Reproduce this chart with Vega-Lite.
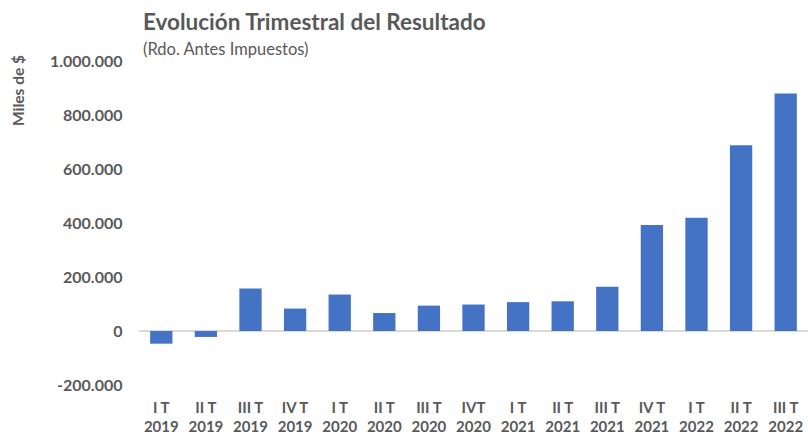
{
  "$schema": "https://vega.github.io/schema/vega-lite/v6.json",
  "width": 669,
  "height": 324,
  "autosize": {"type": "none"},
  "padding": {"left": 139, "top": 61, "right": 0, "bottom": 52},
  "background": "white",
  "title": {
    "text": "Evolución Trimestral del Resultado",
    "subtitle": "(Rdo. Antes Impuestos)",
    "anchor": "start",
    "frame": "group",
    "offset": -5,
    "dx": 4,
    "font": "Lato",
    "fontSize": 22.5,
    "fontWeight": "bold",
    "color": "#595959",
    "subtitleFont": "Lato",
    "subtitleFontSize": 16.5,
    "subtitleColor": "#595959",
    "subtitlePadding": 7
  },
  "data": {
    "values": [
      {"q": "I T 2019", "v": -47000},
      {"q": "II T 2019", "v": -22000},
      {"q": "III T 2019", "v": 157000},
      {"q": "IV T 2019", "v": 83000},
      {"q": "I T 2020", "v": 135000},
      {"q": "II T 2020", "v": 67000},
      {"q": "III T 2020", "v": 94000},
      {"q": "IVT 2020", "v": 98000},
      {"q": "I T 2021", "v": 107000},
      {"q": "II T 2021", "v": 110000},
      {"q": "III T 2021", "v": 164000},
      {"q": "IV T 2021", "v": 393000},
      {"q": "I T 2022", "v": 419000},
      {"q": "II T 2022", "v": 688000},
      {"q": "III T 2022", "v": 880000}
    ]
  },
  "layer": [
    {
      "mark": {"type": "rule", "color": "#d9d9d9", "strokeWidth": 1},
      "encoding": {"y": {"datum": 0, "type": "quantitative"}}
    },
    {
      "mark": {"type": "bar", "color": "#4472C4"},
      "encoding": {
        "x": {
          "field": "q",
          "type": "nominal",
          "sort": null,
          "scale": {"paddingInner": 0.5, "paddingOuter": 0.25},
          "axis": {
            "title": null,
            "domain": false,
            "ticks": false,
            "labelAngle": 0,
            "labelExpr": "[slice(datum.value, 0, -5), slice(datum.value, -4)]",
            "labelFont": "Lato",
            "labelFontSize": 15,
            "labelFontWeight": "bold",
            "labelColor": "#595959",
            "labelLineHeight": 19,
            "labelPadding": 15
          }
        },
        "y": {
          "field": "v",
          "type": "quantitative",
          "scale": {"domain": [-200000, 1000000], "nice": false},
          "axis": {
            "title": "Miles de $",
            "values": [-200000, 0, 200000, 400000, 600000, 800000, 1000000],
            "format": ",.0f",
            "domain": false,
            "ticks": false,
            "grid": false,
            "labelFont": "Lato",
            "labelFontSize": 16,
            "labelFontWeight": "bold",
            "labelColor": "#595959",
            "labelPadding": 17,
            "titleFont": "Lato",
            "titleFontSize": 15.5,
            "titleFontWeight": "bold",
            "titleColor": "#595959",
            "titleAngle": -90,
            "titleX": -121,
            "titleY": 29,
            "titleAlign": "center",
            "titleBaseline": "middle"
          }
        }
      }
    }
  ],
  "config": {
    "view": {"stroke": null},
    "locale": {
      "number": {"decimal": ",", "thousands": ".", "grouping": [3], "currency": ["$", ""], "minus": "-"}
    }
  }
}
